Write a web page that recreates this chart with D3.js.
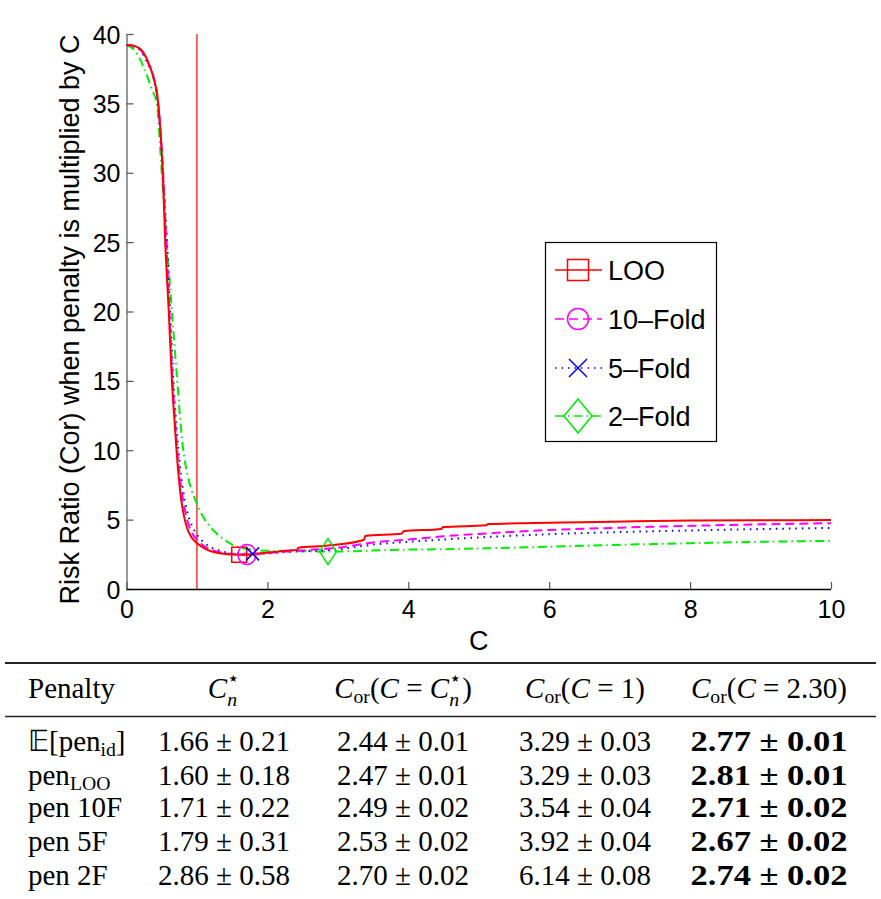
<!DOCTYPE html>
<html>
<head>
<meta charset="utf-8">
<script src="https://cdn.jsdelivr.net/npm/d3@7"></script>
<style>
body { margin: 0; background: #fff; }
svg { display: block; }
</style>
</head>
<body>
<svg width="881" height="899"></svg>
<script>
// ---- curve data ----
var cLOO = [0, 0.1, 0.2, 0.26, 0.32, 0.375, 0.45, 0.515, 0.55, 0.6, 0.645, 0.69, 0.73, 0.77, 0.81, 0.86, 0.92, 1.0, 1.1, 1.2, 1.35, 1.5, 1.6, 1.7, 1.8, 2.0, 2.3, 2.42, 2.44, 2.8, 3.0, 3.37, 3.39, 3.91, 3.93, 4.47, 4.49, 5.11, 5.13, 5.79, 6.47, 7.23, 8.0, 9.0, 10];
var rLOO = [39.2, 39.15, 38.9, 38.5, 37.8, 37.0, 35.0, 30.0, 25.0, 20.0, 15.0, 11.5, 8.7, 6.7, 5.4, 4.4, 3.75, 3.29, 2.95, 2.72, 2.56, 2.48, 2.47, 2.46, 2.5, 2.62, 2.78, 2.82, 2.97, 3.1, 3.2, 3.55, 3.82, 4.0, 4.17, 4.33, 4.46, 4.6, 4.68, 4.75, 4.81, 4.88, 4.93, 4.95, 4.97];

var c10F = [0, 0.1, 0.2, 0.3, 0.38, 0.45, 0.52, 0.565, 0.61, 0.655, 0.7, 0.75, 0.8, 0.85, 0.92, 1.0, 1.1, 1.2, 1.35, 1.5, 1.71, 1.9, 2.0, 2.3, 2.6, 3.0, 3.5, 4.0, 4.5, 5.0, 6.0, 7.0, 8.0, 9.0, 10];
var r10F = [39.2, 39.15, 38.85, 38.0, 37.0, 35.0, 30.0, 25.0, 20.0, 15.0, 11.3, 8.4, 6.5, 5.2, 4.15, 3.54, 3.1, 2.83, 2.62, 2.53, 2.49, 2.55, 2.6, 2.71, 2.82, 2.97, 3.35, 3.57, 3.8, 3.97, 4.25, 4.42, 4.55, 4.66, 4.74];

var c5F = [0, 0.1, 0.2, 0.3, 0.38, 0.45, 0.52, 0.575, 0.62, 0.665, 0.71, 0.76, 0.81, 0.86, 0.93, 1.0, 1.1, 1.2, 1.35, 1.5, 1.79, 2.0, 2.3, 2.6, 3.0, 3.5, 4.0, 4.5, 5.0, 6.0, 7.0, 8.0, 9.0, 10];
var r5F = [39.2, 39.1, 38.8, 37.9, 36.9, 34.8, 29.8, 25.0, 20.0, 15.0, 11.6, 8.8, 6.9, 5.6, 4.55, 3.92, 3.35, 3.0, 2.72, 2.6, 2.53, 2.57, 2.67, 2.74, 2.85, 3.2, 3.4, 3.57, 3.72, 3.95, 4.1, 4.22, 4.32, 4.4];

var c2F = [0, 0.1, 0.2, 0.29, 0.36, 0.43, 0.5, 0.57, 0.645, 0.72, 0.79, 0.85, 0.92, 1.0, 1.1, 1.2, 1.28, 1.4, 1.5, 1.7, 2.0, 2.3, 2.6, 2.86, 3.2, 3.6, 4.5, 5.5, 6.9, 8.0, 9.0, 10];
var r2F = [39.2, 38.9, 38.1, 37.0, 36.0, 35.0, 30.0, 25.0, 20.0, 15.0, 10.7, 8.6, 7.2, 6.14, 5.1, 4.4, 4.0, 3.5, 3.2, 2.9, 2.76, 2.74, 2.71, 2.70, 2.72, 2.8, 2.87, 2.98, 3.17, 3.3, 3.4, 3.47];

var seriesNames = ["LOO", "10\u2013Fold", "5\u2013Fold", "2\u2013Fold"];
var seriesColors = ["#ff0000", "#ff00ff", "#0000ff", "#00ee00"];
var seriesDash = [null, "9,5", "1.5,5", "9,4,1.5,4"];
var seriesMarks = ["square", "circle", "cross", "diamond"];

var xTicks = [0, 2, 4, 6, 8, 10];
var yTicks = [0, 5, 10, 15, 20, 25, 30, 35, 40];
var refC = 1;

// ---- table data ----
var rowLabels = ["\uD835\uDD3C[pen_id]", "pen_LOO", "pen 10F", "pen 5F", "pen 2F"];
var cStar = [1.66, 1.60, 1.71, 1.79, 2.86];
var cStarErr = [0.21, 0.18, 0.22, 0.31, 0.58];
var corStar = [2.44, 2.47, 2.49, 2.53, 2.70];
var corStarErr = [0.01, 0.01, 0.02, 0.02, 0.02];
var corOne = [3.29, 3.29, 3.54, 3.92, 6.14];
var corOneErr = [0.03, 0.03, 0.04, 0.04, 0.08];
var corFix = [2.77, 2.81, 2.71, 2.67, 2.74];
var corFixErr = [0.01, 0.01, 0.02, 0.02, 0.02];

var headCStar = [{t: "C", it: 1}, {t: "\u22C6", sup: 1}, {t: "n", sub: 1, it: 1, stack: 1}];
var headCorStar = [{t: "C", it: 1}, {t: "or", sub: 1}, {t: "("}, {t: "C", it: 1}, {t: " = "}, {t: "C", it: 1}, {t: "\u22C6", sup: 1}, {t: "n", sub: 1, it: 1, stack: 1}, {t: ")"}];
var headCorOne = [{t: "C", it: 1}, {t: "or", sub: 1}, {t: "("}, {t: "C", it: 1}, {t: " = 1)"}];
var headCorFix = [{t: "C", it: 1}, {t: "or", sub: 1}, {t: "("}, {t: "C", it: 1}, {t: " = 2.30)"}];

var svg = d3.select("svg");
var margin = {top: 34, left: 126.5};
var width = 704.5, height = 555;
var g = svg.append("g").attr("transform", "translate(" + margin.left + "," + margin.top + ")");

var x = d3.scaleLinear().domain([0, 10]).range([0, width]);
var y = d3.scaleLinear().domain([0, 40]).range([height, 0]);

var sans = "'Liberation Sans', Arial, Helvetica, sans-serif";
var serif = "'Liberation Serif', 'Times New Roman', serif";

// axes (inward ticks, no box)
var yAxis = g.append("g")
    .call(d3.axisRight(y).tickValues(yTicks).tickSize(7).tickFormat(""));
yAxis.select(".domain").attr("stroke", "#777").attr("stroke-width", 1.5).attr("d", "M0.5," + height + "V0");
yAxis.selectAll(".tick line").attr("stroke", "#555").attr("stroke-width", 1.2);
yAxis.selectAll(".tick").append("text")
    .attr("x", -6).attr("dy", "0.36em")
    .attr("text-anchor", "end")
    .attr("fill", "#000")
    .style("font", "25px " + sans)
    .text(function(d) { return d; });

var xAxis = g.append("g")
    .attr("transform", "translate(0," + height + ")")
    .call(d3.axisTop(x).tickValues(xTicks).tickSize(7).tickFormat(""));
xAxis.select(".domain").attr("stroke", "#000").attr("stroke-width", 1.5).attr("d", "M0," + 0.5 + "H" + width);
xAxis.selectAll(".tick line").attr("stroke", "#555").attr("stroke-width", 1.2);
xAxis.selectAll(".tick").append("text")
    .attr("y", 29)
    .attr("text-anchor", "middle")
    .attr("fill", "#000")
    .style("font", "25px " + sans)
    .text(function(d) { return d; });

// axis titles
g.append("text")
    .attr("transform", "translate(-48," + (height / 2 + 8) + ") rotate(-90)")
    .attr("text-anchor", "middle")
    .style("font", "27px " + sans)
    .text("Risk Ratio (Cor) when penalty is multiplied by C");
g.append("text")
    .attr("x", x(5.0)).attr("y", height + 61)
    .attr("text-anchor", "middle")
    .style("font", "27px " + sans)
    .text("C");

// reference line at C = 1
g.append("line")
    .attr("x1", x(refC)).attr("x2", x(refC))
    .attr("y1", y(40)).attr("y2", y(0))
    .attr("stroke", "#ff0000").attr("stroke-width", 1.2);

var line = d3.line()
    .curve(d3.curveMonotoneX)
    .x(function(d) { return x(d[0]); })
    .y(function(d) { return y(d[1]); });

var allC = [cLOO, c10F, c5F, c2F];
var allR = [rLOO, r10F, r5F, r2F];

[3, 2, 1, 0].forEach(function(i) {
    var pts = allC[i].map(function(c, k) { return [c, allR[i][k]]; });
    g.append("path")
        .datum(pts)
        .attr("fill", "none")
        .attr("stroke", seriesColors[i])
        .attr("stroke-width", 2)
        .attr("stroke-dasharray", seriesDash[i])
        .attr("stroke-linejoin", "round")
        .attr("d", line);
});

function marker(sel, kind, color, s) {
    var m = sel.append("g");
    if (kind === "square") {
        m.append("rect").attr("x", -s.w / 2).attr("y", -s.h / 2).attr("width", s.w).attr("height", s.h);
    } else if (kind === "circle") {
        m.append("ellipse").attr("rx", s.w / 2).attr("ry", s.h / 2);
    } else if (kind === "cross") {
        m.append("path").attr("d", "M" + (-s.w / 2) + "," + (-s.h / 2) + "L" + (s.w / 2) + "," + (s.h / 2) +
            "M" + (-s.w / 2) + "," + (s.h / 2) + "L" + (s.w / 2) + "," + (-s.h / 2));
    } else {
        m.append("path").attr("d", "M0," + (-s.h / 2) + "L" + (s.w / 2) + ",0L0," + (s.h / 2) + "L" + (-s.w / 2) + ",0Z");
    }
    m.selectAll("*").attr("fill", "none").attr("stroke", color).attr("stroke-width", 1.5);
    return m;
}

var plotMarkSize = [{w: 15, h: 15}, {w: 18, h: 20}, {w: 13, h: 13}, {w: 17, h: 26}];
var legMarkSize = [{w: 21, h: 21}, {w: 21, h: 21}, {w: 18, h: 18}, {w: 28, h: 34}];

// optimum markers from table (rows 1..4)
[0, 1, 2, 3].forEach(function(i) {
    marker(g, seriesMarks[i], seriesColors[i], plotMarkSize[i])
        .attr("transform", "translate(" + x(cStar[i + 1]) + "," + y(corStar[i + 1]) + ")");
});

// legend
var leg = svg.append("g");
leg.append("rect")
    .attr("x", 545.5).attr("y", 242.5).attr("width", 171).attr("height", 199)
    .attr("fill", "#fff").attr("stroke", "#000").attr("stroke-width", 1.2);
var legY = [270, 319, 368, 416];
seriesNames.forEach(function(name, i) {
    leg.append("line")
        .attr("x1", 555).attr("x2", 602).attr("y1", legY[i]).attr("y2", legY[i])
        .attr("stroke", seriesColors[i]).attr("stroke-width", 1.5)
        .attr("stroke-dasharray", seriesDash[i]);
    marker(leg, seriesMarks[i], seriesColors[i], legMarkSize[i])
        .attr("transform", "translate(578," + legY[i] + ")");
    leg.append("text")
        .attr("x", 608).attr("y", legY[i] + 10)
        .style("font", "27px " + sans)
        .text(name);
});

// ---- table ----
var tab = svg.append("g");
tab.append("line").attr("x1", 5).attr("x2", 876).attr("y1", 663).attr("y2", 663).attr("stroke", "#222").attr("stroke-width", 2);
tab.append("line").attr("x1", 5).attr("x2", 876).attr("y1", 716.5).attr("y2", 716.5).attr("stroke", "#222").attr("stroke-width", 1.3);

function styleSeg(sel, s, size) {
    var fs = (s.sub || s.sup) ? size * 0.68 : size;
    return sel.style("font-family", serif)
        .style("font-size", fs + "px")
        .style("font-style", s.it ? "italic" : "normal")
        .style("font-weight", s.b ? "bold" : "normal");
}

// one <text> per cell; tspans carry sub/superscripts
function rich(parent, segs, px, py, anchor, size, fitW) {
    var probe = parent.append("text").style("white-space", "pre").attr("opacity", 0);
    var cx = 0, lastX = 0, pos = [];
    segs.forEach(function(s) {
        styleSeg(probe, s, size).text(s.t);
        var w = probe.node().getComputedTextLength();
        var sx = s.stack ? lastX : cx;
        pos.push(sx);
        lastX = sx;
        cx = Math.max(cx, sx + w);
    });
    probe.remove();
    var total = fitW || cx;
    var off = anchor === "middle" ? -total / 2 : 0;
    var t = parent.append("text")
        .attr("transform", "translate(" + (px + off) + "," + py + ")")
        .style("white-space", "pre")
        .style("font-family", serif);
    if (fitW) t.attr("textLength", fitW).attr("lengthAdjust", "spacingAndGlyphs");
    segs.forEach(function(s, k) {
        var dy = s.sub ? size * (s.stack ? 0.27 : 0.18) : (s.sup ? -size * 0.45 : 0);
        styleSeg(t.append("tspan"), s, size)
            .attr("x", pos[k]).attr("y", dy)
            .text(s.t);
    });
}

function labelSegs(str) {
    var k = str.indexOf("_");
    if (k < 0) return [{t: str}];
    var rest = str.slice(k + 1);
    var j = rest.indexOf("]");
    var segs = [{t: str.slice(0, k)}, {t: j < 0 ? rest : rest.slice(0, j), sub: 1}];
    if (j >= 0) segs.push({t: rest.slice(j)});
    return segs;
}

var colX = [28, 224, 403, 585, 769];
var headY = 698;
rich(tab, [{t: "Penalty"}], colX[0], headY, "start", 29);
rich(tab, headCStar, colX[1], headY, "middle", 29);
rich(tab, headCorStar, colX[2], headY, "middle", 29);
rich(tab, headCorOne, colX[3], headY, "middle", 29);
rich(tab, headCorFix, colX[4], headY, "middle", 29);

var rowY = [751, 785, 817, 851, 885];
function pm(v, e) { return v.toFixed(2) + " \u00B1 " + e.toFixed(2); }
rowLabels.forEach(function(lab, r) {
    rich(tab, labelSegs(lab), colX[0], rowY[r], "start", 29);
    rich(tab, [{t: pm(cStar[r], cStarErr[r])}], colX[1], rowY[r], "middle", 29);
    rich(tab, [{t: pm(corStar[r], corStarErr[r])}], colX[2], rowY[r], "middle", 29);
    rich(tab, [{t: pm(corOne[r], corOneErr[r])}], colX[3], rowY[r], "middle", 29);
    rich(tab, [{t: pm(corFix[r], corFixErr[r]), b: 1}], colX[4], rowY[r], "middle", 29, 157);
});
</script>
</body>
</html>
